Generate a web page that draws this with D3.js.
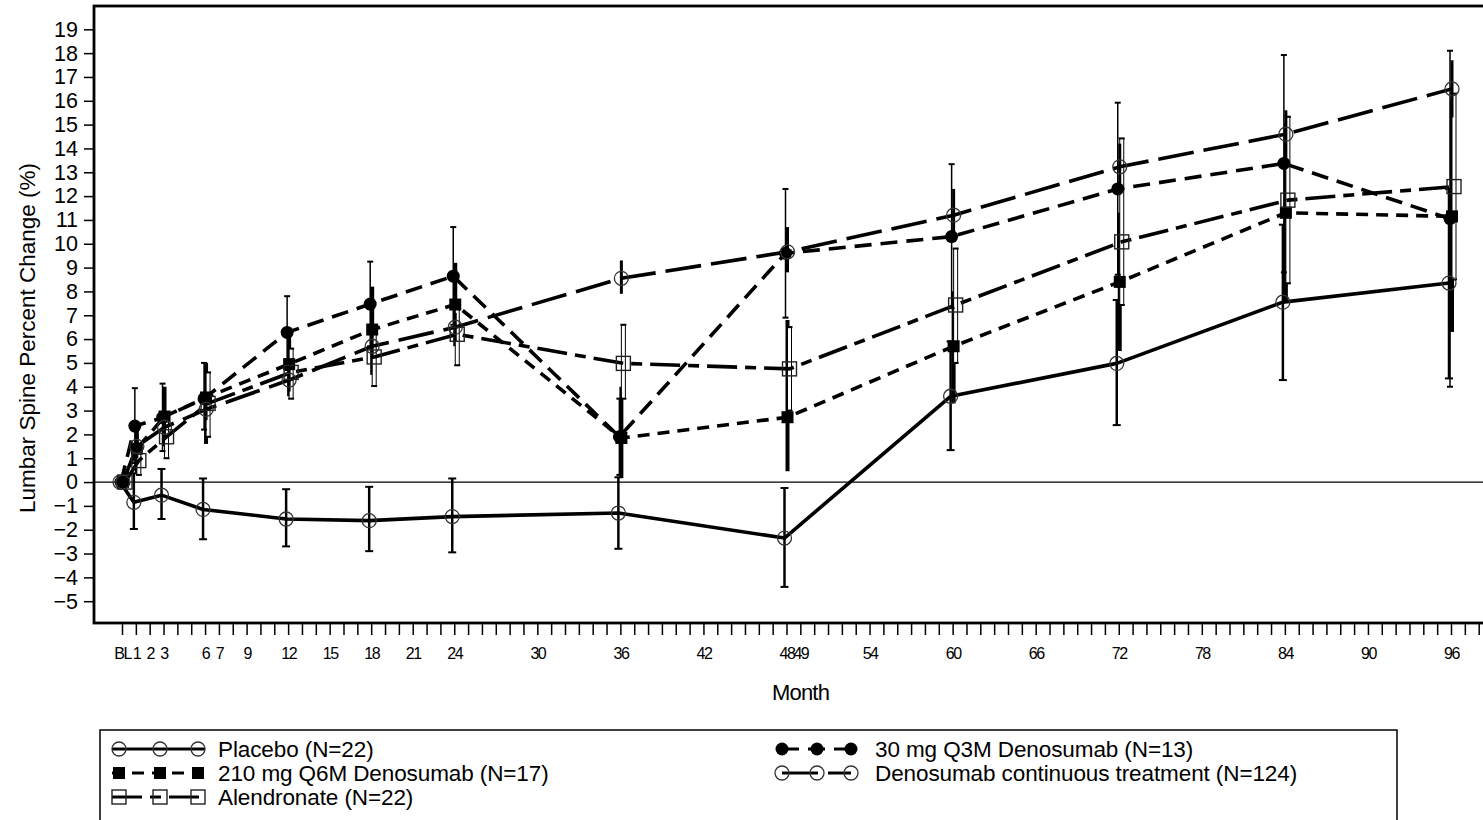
<!DOCTYPE html>
<html>
<head>
<meta charset="utf-8">
<script src="https://cdn.jsdelivr.net/npm/d3@7"></script>
<style>
  html, body { margin: 0; padding: 0; background: #fff; }
  svg { display: block; font-family: "Liberation Sans", Arial, sans-serif; }
</style>
</head>
<body>
<svg id="chart" width="1483" height="820"></svg>
<script>
// Visit months (BL = 0)
const months = [0, 1, 3, 6, 12, 18, 24, 36, 48, 60, 72, 84, 96];
const tickMonths = [0, 1, 2, 3, 6, 7, 9, 12, 15, 18, 21, 24, 30, 36, 42, 48, 49, 54, 60, 66, 72, 78, 84, 90, 96];
const yTicks = d3.range(-5, 20);

// Mean percent change from baseline in lumbar spine BMD
const placebo     = [0, -0.85, -0.55, -1.15, -1.55, -1.62, -1.45, -1.3, -2.35, 3.6, 4.98, 7.55, 8.35];
const den210      = [0, 1.4, 2.75, 3.55, 4.95, 6.4, 7.45, 1.85, 2.72, 5.7, 8.4, 11.3, 11.15];
const alendronate = [0, 0.9, 1.9, 3.3, 4.6, 5.25, 6.2, 4.98, 4.75, 7.43, 10.08, 11.83, 12.4];
const den30       = [0, 2.35, 2.7, 3.5, 6.28, 7.47, 8.64, 1.9, 9.6, 10.3, 12.3, 13.37, 11.05];
const continuous  = [0, 1.5, 2.3, 3.05, 4.28, 5.7, 6.5, 8.55, 9.66, 11.2, 13.23, 14.6, 16.5];

// Interval limits (null at baseline)
const placeboLo = [null, -1.97, -1.55, -2.4, -2.7, -2.9, -2.95, -2.8, -4.4, 1.34, 2.39, 4.28, 4.35];
const placeboHi = [null, 0.37, 0.55, 0.15, -0.3, -0.2, 0.15, 0.2, -0.25, 5.9, 7.64, 10.8, 12.3];
const den210Lo  = [null, 0.4, 1.5, 1.6, 3.6, 4.5, 5.7, 0.17, 0.45, 3.3, 5.5, 7.6, 6.3];
const den210Hi  = [null, 2.4, 4.0, 5.0, 6.2, 8.2, 9.2, 4.0, 6.8, 8.0, 11.3, 15.06, 16.0];
const alendLo   = [null, 0.3, 1.0, 1.9, 3.5, 4.03, 4.9, 3.5, 3.0, 5.0, 7.43, 8.34, 8.5];
const alendHi   = [null, 1.6, 2.9, 4.6, 5.6, 6.4, 7.5, 6.6, 6.5, 9.8, 14.42, 15.33, 16.3];
const den30Lo   = [null, 0.8, 1.3, 2.2, 4.7, 5.7, 6.6, 0.3, 6.9, 7.3, 8.7, 8.8, 4.0];
const den30Hi   = [null, 3.94, 4.13, 5.0, 7.8, 9.25, 10.7, 3.5, 12.3, 13.34, 15.92, 17.92, 18.1];
const contLo    = [null, 1.0, 1.8, 2.6, 3.8, 5.2, 5.9, 7.9, 8.8, 10.1, 12.3, 13.6, 15.3];
const contHi    = [null, 2.0, 2.8, 3.5, 4.8, 6.3, 7.1, 9.3, 10.7, 12.3, 14.2, 15.6, 17.7];

const seriesNames = [
  "Placebo (N=22)",
  "210 mg Q6M Denosumab (N=17)",
  "Alendronate (N=22)",
  "30 mg Q3M Denosumab (N=13)",
  "Denosumab continuous treatment (N=124)"
];

// Drawing style for each group
const series = [
  { name: seriesNames[0], v: placebo, lo: placeboLo, hi: placeboHi, marker: "openCircle", dash: null, bar: "capped", barW: 2.5, capW: 8, dx: -2 },
  { name: seriesNames[1], v: den210, lo: den210Lo, hi: den210Hi, marker: "filledSquare", dash: "12,8", bar: "plain", barW: 4, capW: 0, dx: 1 },
  { name: seriesNames[2], v: alendronate, lo: alendLo, hi: alendHi, marker: "openSquare", dash: "30,8,11,8", bar: "hollow", barW: 4, capW: 6, dx: 3 },
  { name: seriesNames[3], v: den30, lo: den30Lo, hi: den30Hi, marker: "filledCircle", dash: "17,9", bar: "capped", barW: 1.5, capW: 6, dx: -1 },
  { name: seriesNames[4], v: continuous, lo: contLo, hi: contHi, marker: "halfCircle", dash: "36,10", bar: "plain", barW: 3, capW: 0, dx: 1 }
];

const svg = d3.select("#chart");
const W = 1483;

const frame = { left: 94, top: 6, bottom: 623 };
const x = d3.scaleLinear().domain([0, 96]).range([122, 1451]);
const y = d3.scaleLinear().domain([-5, 19]).range([601.2, 29.3]);

// Plot frame (runs past the right edge of the page)
svg.append("rect")
  .attr("x", frame.left).attr("y", frame.top)
  .attr("width", W + 20 - frame.left).attr("height", frame.bottom - frame.top)
  .attr("fill", "none").attr("stroke", "#000").attr("stroke-width", 2.8);

// Reference line at zero
svg.append("line")
  .attr("x1", frame.left).attr("x2", W)
  .attr("y1", y(0)).attr("y2", y(0))
  .attr("stroke", "#000").attr("stroke-width", 1.3);

// Y axis
const yAxis = svg.append("g")
  .attr("transform", `translate(${frame.left},0)`)
  .call(d3.axisLeft(y).tickValues(yTicks).tickSize(10).tickPadding(6).tickFormat(d3.format("d")));
yAxis.select(".domain").remove();
yAxis.selectAll("line").attr("stroke", "#000").attr("stroke-width", 1.5);
yAxis.selectAll("text").attr("font-size", 21.5).attr("fill", "#000")
  .attr("font-family", "'Liberation Sans', Arial, sans-serif");

// X axis: monthly minor ticks
const xMinor = svg.append("g")
  .attr("transform", `translate(0,${frame.bottom})`)
  .call(d3.axisBottom(x).tickValues(d3.range(0, 99)).tickSize(12).tickFormat(""));
xMinor.select(".domain").remove();
xMinor.selectAll("line").attr("stroke", "#000").attr("stroke-width", 1.5);

// X axis labels
const xLab = svg.append("g")
  .attr("transform", `translate(0,${frame.bottom + 25})`)
  .call(d3.axisBottom(x).tickValues(tickMonths).tickSize(0).tickPadding(0)
    .tickFormat(d => d === 0 ? "BL" : String(d)));
xLab.select(".domain").remove();
xLab.selectAll("text").attr("font-size", 16).attr("fill", "#000")
  .attr("letter-spacing", "-1.5px")
  .attr("font-family", "'Liberation Sans', Arial, sans-serif");

// Axis titles
svg.append("text")
  .attr("x", x(48) + 14).attr("y", 700)
  .attr("text-anchor", "middle").attr("font-size", 22).attr("fill", "#000")
  .attr("letter-spacing", "-0.8px")
  .text("Month");

svg.append("text")
  .attr("transform", `translate(35,338) rotate(-90)`)
  .attr("text-anchor", "middle").attr("font-size", 22.5).attr("fill", "#000")
  .text("Lumbar Spine Percent Change (%)");

// Error bars
const plotG = svg.append("g");
series.forEach(s => {
  const g = plotG.append("g");
  months.forEach((m, i) => {
    if (s.lo[i] == null) return;
    const cx = x(m) + s.dx;
    const y1 = y(s.hi[i]), y2 = y(s.lo[i]);
    if (s.bar === "hollow") {
      g.append("rect")
        .attr("x", cx - s.barW / 2).attr("y", y1)
        .attr("width", s.barW).attr("height", y2 - y1)
        .attr("fill", "#fff").attr("stroke", "#000").attr("stroke-width", 1);
    } else {
      g.append("line")
        .attr("x1", cx).attr("x2", cx).attr("y1", y1).attr("y2", y2)
        .attr("stroke", "#000").attr("stroke-width", s.barW);
    }
    if (s.capW > 0) {
      [y1, y2].forEach(yy => {
        g.append("line")
          .attr("x1", cx - s.capW / 2).attr("x2", cx + s.capW / 2)
          .attr("y1", yy).attr("y2", yy)
          .attr("stroke", "#000").attr("stroke-width", 2);
      });
    }
  });
});

// Lines
const line = d3.line().y(d => y(d));
series.forEach(s => {
  plotG.append("path")
    .attr("d", line.x((d, i) => x(months[i]) + s.dx)(s.v))
    .attr("fill", "none").attr("stroke", "#000").attr("stroke-width", 3.6)
    .attr("stroke-linejoin", "round")
    .attr("stroke-dasharray", s.dash);
});

// Markers
function drawMarker(g, type, cx, cy) {
  switch (type) {
    case "openCircle":
    case "halfCircle":
      g.append("circle").attr("cx", cx).attr("cy", cy).attr("r", 7)
        .attr("fill", "none").attr("stroke", "#333").attr("stroke-width", 1.3);
      break;
    case "filledCircle":
      g.append("circle").attr("cx", cx).attr("cy", cy).attr("r", 6.5)
        .attr("fill", "#000");
      break;
    case "filledSquare":
      g.append("rect").attr("x", cx - 6).attr("y", cy - 6).attr("width", 12).attr("height", 12)
        .attr("fill", "#000");
      break;
    case "openSquare":
      g.append("rect").attr("x", cx - 7).attr("y", cy - 7).attr("width", 14).attr("height", 14)
        .attr("fill", "none").attr("stroke", "#222").attr("stroke-width", 1.4);
      break;
  }
}
series.forEach(s => {
  const g = plotG.append("g");
  s.v.forEach((v, i) => drawMarker(g, s.marker, x(months[i]) + s.dx, y(v)));
});

// Legend
const legend = svg.append("g");
legend.append("rect")
  .attr("x", 100).attr("y", 730).attr("width", 1297).attr("height", 110)
  .attr("fill", "none").attr("stroke", "#000").attr("stroke-width", 1.5);

const legendRows = [
  { s: series[0], col: 0, row: 0 },
  { s: series[1], col: 0, row: 1 },
  { s: series[2], col: 0, row: 2 },
  { s: series[3], col: 1, row: 0 },
  { s: series[4], col: 1, row: 1 }
];
const colSym = [[119, 160, 198], [782, 817, 851]];
const colText = [218, 875];
legendRows.forEach(r => {
  const cy = 749 + r.row * 24;
  const xs = colSym[r.col];
  const g = legend.append("g");
  const xEnd = r.col === 0 ? xs[2] + 7 : xs[2];
  const xStart = r.col === 0 ? xs[0] - 7 : xs[0];
  g.append("line")
    .attr("x1", xStart).attr("x2", xEnd).attr("y1", cy).attr("y2", cy)
    .attr("stroke", "#000").attr("stroke-width", 3.2)
    .attr("stroke-dasharray", r.s.dash);
  xs.forEach(sx => drawMarker(g, r.s.marker, sx, cy));
  g.append("text")
    .attr("x", colText[r.col]).attr("y", cy + 8)
    .attr("font-size", 22.5).attr("fill", "#000")
    .attr("letter-spacing", "-0.1px")
    .text(r.s.name);
});
</script>
</body>
</html>
